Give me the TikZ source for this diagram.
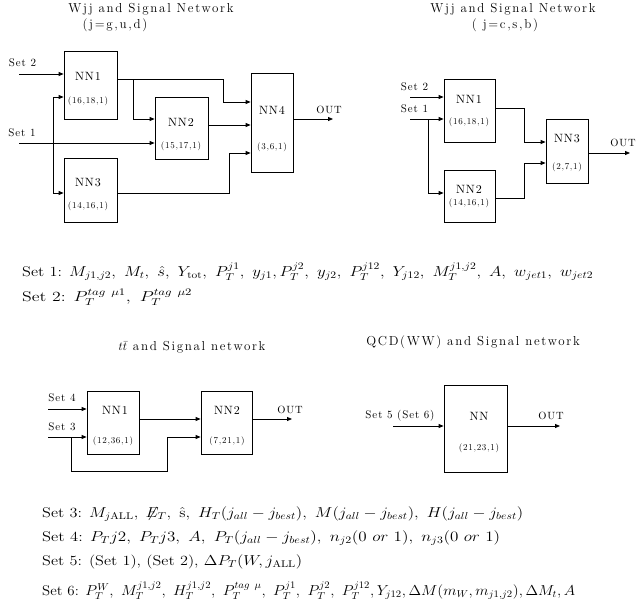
\documentclass[tikz,border=0pt]{standalone}
\usepackage{fontspec}
\usepackage{graphicx}
\newfontfamily\ttlfont{lmroman12-regular.otf}[LetterSpace=13]
\newfontfamily\lblfont{lmroman10-regular.otf}[LetterSpace=8]
\usetikzlibrary{arrows.meta}

\begin{document}
\begin{tikzpicture}[x=1pt,y=-1pt,
  every node/.style={inner sep=0pt},
  nnbox/.style={rectangle,draw=black,line width=0.8pt},
  nnlab/.style={font=\lblfont\fontsize{12}{14}\selectfont},
  nnpar/.style={font=\lblfont\fontsize{9}{10}\selectfont},
  ttl/.style={font=\ttlfont\fontsize{13}{15}\selectfont},
  inlab/.style={font=\lblfont\fontsize{11}{13}\selectfont},
  outlab/.style={font=\lblfont\fontsize{10.5}{12}\selectfont},
  settxt/.style={font=\fontsize{14}{16}\selectfont,anchor=west},
  arr/.style={-{Triangle[length=5pt,width=4pt]},line width=0.8pt},
]
\useasboundingbox (0,0) rectangle (637,613);

% --- Wjj network, j=g,u,d
\node[ttl] at (151,9)  (atitle) {Wjj and Signal Network};
\node[ttl] at (115,25) (asub)   {(j=g,u,d)};
\node[nnbox,minimum width=53pt,minimum height=68pt] at (90.5,85)   (a1) {};
\node[nnbox,minimum width=53pt,minimum height=62pt] at (181.5,128) (a2) {};
\node[nnbox,minimum width=53pt,minimum height=64pt] at (90.5,190)  (a3) {};
\node[nnbox,minimum width=42pt,minimum height=99pt] at (272,122.5) (a4) {};
\node[nnlab] at (88,76)   (a1l) {NN1};
\node[nnpar] at (88,101)  (a1p) {(16,18,1)};
\node[nnlab] at (181,122) (a2l) {NN2};
\node[nnpar] at (181,146) (a2p) {(15,17,1)};
\node[nnlab] at (88,183)  (a3l) {NN3};
\node[nnpar] at (88,206)  (a3p) {(14,16,1)};
\node[nnlab] at (272,110) (a4l) {NN4};
\node[nnpar] at (272,147) (a4p) {(3,6,1)};
\node[inlab] at (22.5,63) (aset2) {Set 2};
\node[inlab] at (22,133)  (aset1) {Set 1};
\node[outlab] at (329,110) (aoutl) {OUT};
\coordinate (a2in) at (19,74);
\coordinate (a1in) at (19,143);
\coordinate (aout) at (333,119);
\draw[arr] (a2in) -- (a2in -| a1.west);
\draw[arr] (a1in) -- (a1in -| a2.west);
\draw[arr] (53,143) -- (53,97) -- (a1.west |- 0,97);
\draw[arr] (53,143) |- (a3.west |- 0,193);
\draw[arr] (a1.east |- 0,79) -| (223,102) -- (a4.west |- 0,102);
\draw[arr] (133,79) |- (a2.west |- 0,119);
\draw[arr] (a2.east |- 0,125) -- (a4.west |- 0,125);
\draw[arr] (a3.east |- 0,193) -| (229,153) -- (a4.west |- 0,153);
\draw[arr] (a4.east |- aout) -- (aout);

% --- Wjj network, j=c,s,b
\node[ttl] at (513,9)  (btitle) {Wjj and Signal Network};
\node[ttl] at (505,25) (bsub)   {( j=c,s,b)};
\node[nnbox,minimum width=51pt,minimum height=63pt] at (469.5,110.5) (b1) {};
\node[nnbox,minimum width=51pt,minimum height=52pt] at (469.5,196)   (b2) {};
\node[nnbox,minimum width=42pt,minimum height=64pt] at (567,151)     (b3) {};
\node[nnlab] at (469,99)  (b1l) {NN1};
\node[nnpar] at (469,122) (b1p) {(16,18,1)};
\node[nnlab] at (469,189) (b2l) {NN2};
\node[nnpar] at (469,203) (b2p) {(14,16,1)};
\node[nnlab] at (567,139) (b3l) {NN3};
\node[nnpar] at (567,167) (b3p) {(2,7,1)};
\node[inlab] at (414.5,87)  (bset2) {Set 2};
\node[inlab] at (414.5,109) (bset1) {Set 1};
\node[outlab] at (623,143)  (boutl) {OUT};
\coordinate (b2in) at (410,97);
\coordinate (b1in) at (410,119);
\coordinate (bout) at (630,153);
\draw[arr] (b2in) -- (b2in -| b1.west);
\draw[arr] (b1in) -- (b1in -| b1.west);
\draw[arr] (428,119) |- (b2.west |- 0,193);
\draw[arr] (b1.east |- 0,108) -| (524,142) -- (b3.west |- 0,142);
\draw[arr] (b2.east |- 0,198) -| (524,163) -- (b3.west |- 0,163);
\draw[arr] (b3.east |- bout) -- (bout);

% --- input sets 1 and 2
\node[settxt] at (22,272) (set1) {\resizebox{571pt}{\height}{Set 1: $M_{j1,j2},\ M_t,\ \hat s,\ Y_{\rm tot},\ P_T^{j1},\ y_{j1}, P_T^{j2},\ y_{j2},\ P_T^{j12},\ Y_{j12},\ M_T^{j1,j2},\ A,\ w_{jet1},\ w_{jet2}$}};
\node[settxt] at (22,297) (set2) {\resizebox{170pt}{\height}{Set 2: $P_T^{tag\ \mu1},\ P_T^{tag\ \mu2}$}};

% --- ttbar network
\node[ttl] at (192,347) (ctitle) {$t\bar t$ and Signal network};
\node[nnbox,minimum width=52pt,minimum height=63pt] at (113,422.5)   (c1) {};
\node[nnbox,minimum width=51pt,minimum height=63pt] at (226.5,422.5) (c2) {};
\node[nnlab] at (115,410) (c1l) {NN1};
\node[nnpar] at (113,441) (c1p) {(12,36,1)};
\node[nnlab] at (227,410) (c2l) {NN2};
\node[nnpar] at (227,441) (c2p) {(7,21,1)};
\node[inlab] at (62,398)  (cset4) {Set 4};
\node[inlab] at (62,427)  (cset3) {Set 3};
\node[outlab] at (290,410) (coutl) {OUT};
\coordinate (c4in) at (48,409);
\coordinate (c3in) at (48,437);
\coordinate (cout) at (292,419);
\draw[arr] (c4in) -- (c4in -| c1.west);
\draw[arr] (c3in) -- (c3in -| c1.west);
\draw[arr] (71,437) |- (167,471) |- (c2.west |- 0,437);
\draw[arr] (c1.east |- 0,419) -- (c2.west |- 0,419);
\draw[arr] (c2.east |- cout) -- (cout);

% --- QCD(WW) network
\node[ttl] at (473,342) (dtitle) {QCD(WW) and Signal network};
\node[nnbox,minimum width=63pt,minimum height=87pt] at (475.5,428.5) (d) {};
\node[nnlab] at (479,416) (dl) {NN};
\node[nnpar] at (479,448) (dp) {(21,23,1)};
\node[inlab] at (400,416) (dset5) {Set 5 (Set 6)};
\node[outlab] at (551,416) (doutl) {OUT};
\coordinate (din)  at (393,426);
\coordinate (dout) at (560,426);
\draw[arr] (din) -- (din -| d.west);
\draw[arr] (d.east |- dout) -- (dout);

% --- input sets 3 to 6
\node[settxt] at (42,514) (set3) {\resizebox{481pt}{\height}{Set 3: $M_{j\rm ALL},\ \not\!\!E_T,\ \hat{\rm s},\ H_T(j_{all}-j_{best}),\ M(j_{all}-j_{best}),\ H(j_{all}-j_{best})$}};
\node[settxt] at (42,538) (set4) {\resizebox{458pt}{\height}{Set 4: $P_Tj2,\ P_Tj3,\ A,\ P_T(j_{all}-j_{best}),\ n_{j2}(0\ or\ 1),\ n_{j3}(0\ or\ 1)$}};
\node[settxt] at (42,562) (set5) {\resizebox{260pt}{\height}{Set 5: (Set 1), (Set 2), $\Delta P_T(W,j_{\rm ALL})$}};
\node[settxt] at (42,591) (set6) {\resizebox{533pt}{\height}{Set 6: $P_T^W,\ M_T^{j1,j2},\ H_T^{j1,j2},\ P_T^{tag\ \mu},\ P_T^{j1},\ P_T^{j2},\ P_T^{j12}, Y_{j12}, \Delta M(m_W,m_{j1,j2}), \Delta M_t, A$}};
\end{tikzpicture}
\end{document}
